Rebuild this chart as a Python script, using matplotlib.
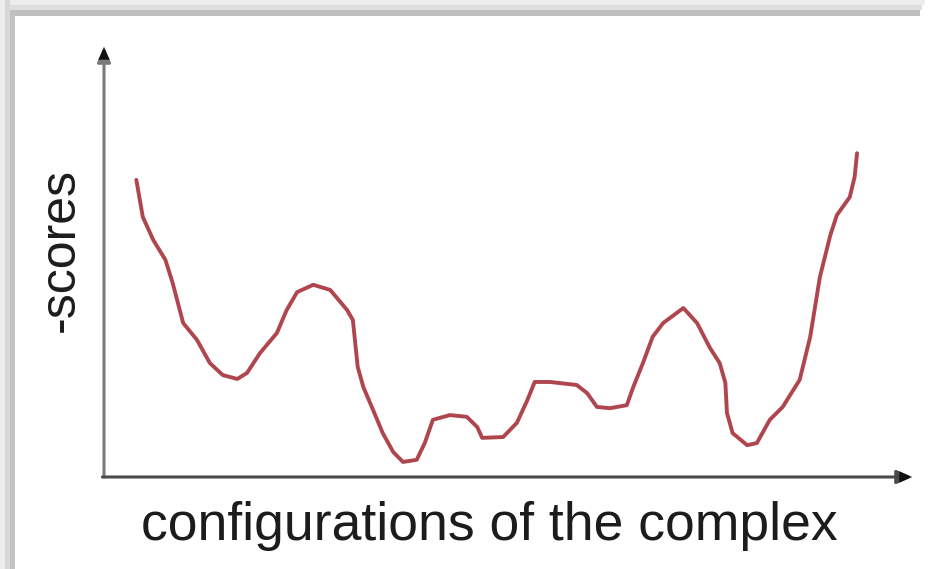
import matplotlib
matplotlib.use("Agg")
import matplotlib.pyplot as plt
from matplotlib.patches import Rectangle

# configuration index (0-100) and -score (0-100)
config = [4.0, 4.8, 6.1, 7.6, 8.5, 9.8, 11.5, 13.1, 14.7, 16.5, 17.7, 19.3, 21.4, 22.6,
          23.9, 25.9, 28.0, 30.1, 30.8, 31.4, 32.1, 33.3, 34.5, 35.8, 37.0, 38.7, 39.7,
          40.7, 42.8, 44.9, 46.2, 46.8, 49.4, 51.1, 52.4, 53.3, 55.2, 58.5, 59.8, 61.0,
          62.6, 64.7, 65.5, 66.7, 67.9, 69.2, 71.7, 73.4, 75.0, 76.2, 76.9, 77.1, 77.8,
          79.6, 80.8, 82.4, 84.0, 86.1, 87.4, 88.6, 89.9, 90.7, 92.3, 92.9, 93.2]
neg_score = [69.1, 60.5, 55.1, 50.5, 45.1, 35.8, 31.9, 26.5, 23.7, 22.8, 24.2, 28.8, 33.5, 38.8,
             43.0, 44.7, 43.5, 38.8, 36.5, 25.6, 20.9, 15.6, 10.2, 5.8, 3.5, 4.0, 7.9,
             13.3, 14.4, 14.0, 11.6, 9.1, 9.3, 12.6, 17.9, 22.1, 22.1, 21.4, 19.5, 16.3,
             16.0, 16.7, 20.9, 26.5, 32.6, 35.8, 39.3, 35.8, 30.0, 26.5, 21.9, 14.9, 10.2,
             7.4, 7.9, 13.3, 16.3, 22.6, 32.6, 46.5, 56.3, 60.9, 65.1, 69.8, 75.3]

x_label = "configurations of the complex"
y_label = "-scores"

W, H = 930, 569
fig = plt.figure(figsize=(W / 100, H / 100), dpi=100)
fig.patch.set_facecolor("white")

# frame shadow bands (top and left)
def band(x0, y0, x1, y1, color):
    fig.patches.append(Rectangle((x0 / W, 1 - y1 / H), (x1 - x0) / W, (y1 - y0) / H,
                                 transform=fig.transFigure, color=color, zorder=0, lw=0))

band(0, 0, 925, 5, "#ededed")
band(0, 5, 922, 10, "#dedede")
band(10, 10, 920, 16, "#bfbfbf")
band(0, 0, 5, 569, "#ededed")
band(5, 0, 10, 569, "#d8d8d8")
band(10, 10, 15, 569, "#c2c2c2")

left, right, bottom, top = 104, 912, 477, 47
ax = fig.add_axes([left / W, 1 - bottom / H, (right - left) / W, (bottom - top) / H])
ax.set_xlim(0, 100)
ax.set_ylim(0, 100)
ax.axis("off")

ax.plot(config, neg_score, color="#b0464d", lw=2.8, solid_joinstyle="round",
        solid_capstyle="round")

ax.annotate("", xy=(0, 1.0), xytext=(0, 0), xycoords="axes fraction",
            arrowprops=dict(arrowstyle="-|>,head_length=0.9,head_width=0.4",
                            color="#7a7a7a", lw=2.2, shrinkA=0, shrinkB=0),
            annotation_clip=False)
ax.annotate("", xy=(1.0, 0), xytext=(-0.002, 0), xycoords="axes fraction",
            arrowprops=dict(arrowstyle="-|>,head_length=0.9,head_width=0.4",
                            color="#4a4a4a", lw=2.2, shrinkA=0, shrinkB=0),
            annotation_clip=False)
# dark arrow tips
ax.annotate("", xy=(0, 1.0), xytext=(0, 0.97), xycoords="axes fraction",
            arrowprops=dict(arrowstyle="-|>,head_length=0.9,head_width=0.4",
                            color="#111111", lw=0.1, shrinkA=0, shrinkB=0),
            annotation_clip=False)
ax.annotate("", xy=(1.0, 0), xytext=(0.98, 0), xycoords="axes fraction",
            arrowprops=dict(arrowstyle="-|>,head_length=0.9,head_width=0.4",
                            color="#111111", lw=0.1, shrinkA=0, shrinkB=0),
            annotation_clip=False)

fig.text(489 / W, 1 - 540 / H, x_label, ha="center", va="baseline",
         fontsize=38.5, family="Liberation Sans", color="#1c1c1c")
fig.text(74 / W, 1 - 250 / H, y_label, ha="center", va="baseline", rotation=90,
         rotation_mode="anchor", fontsize=36, family="Liberation Sans", color="#1c1c1c")

fig.savefig("out.png", dpi=100)
